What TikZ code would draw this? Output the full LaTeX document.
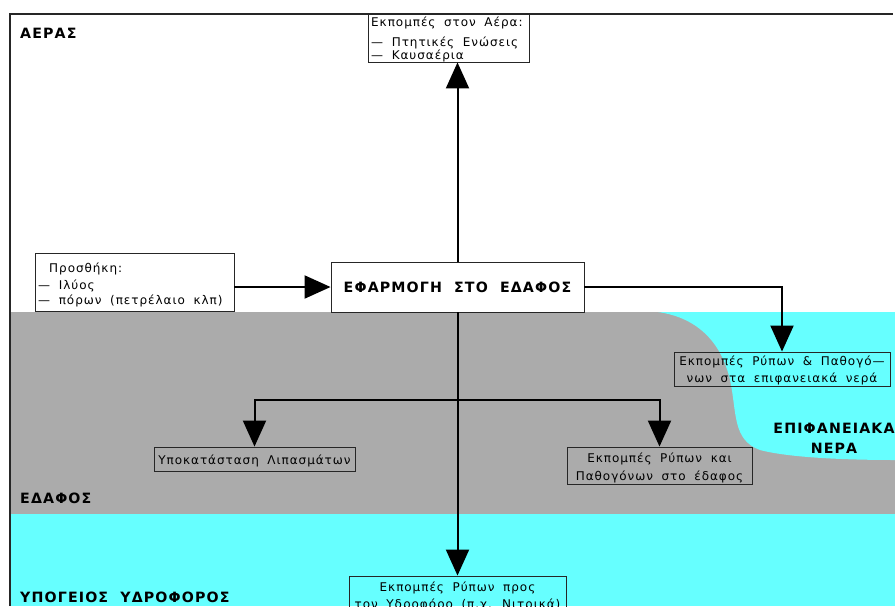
\documentclass[tikz,border=0pt]{standalone}
\usepackage{fontspec}
\setmainfont{DejaVu Sans}[LetterSpace=8, WordSpace=1.8]
\newfontfamily\hdr{DejaVu Sans}[LetterSpace=8]
\usetikzlibrary{arrows.meta}
\definecolor{soilgray}{HTML}{ABABAB}
\definecolor{watercyan}{HTML}{66FFFF}
\tikzset{
  box/.style={draw=black!85, line width=0.9pt, inner sep=0pt},
  txt/.style={font=\fontsize{12}{14}\selectfont, inner sep=0pt, anchor=base west},
  ctxt/.style={font=\fontsize{12}{14}\selectfont, inner sep=0pt, anchor=base},
  lbl/.style={font=\hdr\bfseries\fontsize{14.2}{16}\selectfont, inner sep=0pt, anchor=base west},
  arr/.style={-{Triangle[width=23pt,length=26pt]}, line width=2pt}
}
\begin{document}
\begin{tikzpicture}[x=1pt,y=-1pt]
\useasboundingbox (0,0) rectangle (895,606);
\clip (0,0) rectangle (895,606);
% regions
\fill[white] (0,0) rectangle (895,606);
\fill[soilgray] (10,312) rectangle (895,514);
\fill[watercyan] (10,514) rectangle (895,606);
\fill[watercyan] (658,312) .. controls (700,318) and (722,345) .. (730,380)
  .. controls (737,412) and (732,440) .. (760,450)
  .. controls (790,458) and (850,460) .. (895,460) -- (895,312) -- cycle;
% frame
\draw[line width=1.5pt, black!85] (10,606) -- (10,14) -- (893,14);
% region labels
\node[lbl] (aeras) at (20,38) {ΑΕΡΑΣ};
\node[lbl] (edafos) at (20,503) {ΕΔΑΦΟΣ};
\node[lbl] (ydro) at (20,602) {ΥΠΟΓΕΙΟΣ\ \ ΥΔΡΟΦΟΡΟΣ};
\node[lbl, anchor=base] (epif1) at (834,433) {ΕΠΙΦΑΝΕΙΑΚΑ};
\node[lbl, anchor=base] (epif2) at (834,453) {ΝΕΡΑ};
% boxes
\node[box, fill=white, minimum width=161pt, minimum height=48pt] (air) at (448.5,38) {};
\node[txt] (air1) at (371,26) {Εκπομπές στον Αέρα:};
\node[txt] (air2) at (371,46) {— Πτητικές Ενώσεις};
\node[txt] (air3) at (371,59) {— Καυσαέρια};

\node[box, fill=white, minimum width=199pt, minimum height=58pt] (add) at (134.5,282) {};
\node[txt] (add1) at (49,272) {Προσθήκη:};
\node[txt] (add2) at (38,289) {— Ιλύος};
\node[txt] (add3) at (38,304) {— πόρων (πετρέλαιο κλπ)};

\node[box, fill=white, minimum width=253pt, minimum height=50pt,
  font=\hdr\bfseries\fontsize{14.2}{16}\selectfont] (main) at (457.5,287) {ΕΦΑΡΜΟΓΗ\ \ ΣΤΟ\ \ ΕΔΑΦΟΣ};

\node[box, minimum width=216pt, minimum height=34pt] (surf) at (782,369) {};
\node[ctxt] (surf1) at (782,365) {Εκπομπές Ρύπων \& Παθογό—};
\node[ctxt] (surf2) at (782,382) {νων στα επιφανειακά νερά};

\node[box, minimum width=201pt, minimum height=24pt] (fert) at (254.5,459) {};
\node[ctxt] (fert1) at (254.5,464) {Υποκατάσταση Λιπασμάτων};

\node[box, minimum width=185pt, minimum height=37pt] (soil) at (659.5,465.5) {};
\node[ctxt] (soil1) at (659.5,462) {Εκπομπές Ρύπων και};
\node[ctxt] (soil2) at (659.5,480) {Παθογόνων στο έδαφος};

\node[box, minimum width=217pt, minimum height=44pt] (gw) at (457.5,598) {};
\node[ctxt] (gw1) at (457.5,591) {Εκπομπές Ρύπων προς};
\node[ctxt] (gw2) at (457.5,608) {τον Υδροφόρο (π.χ. Νιτρικά)};
% connectors
\draw[arr] (main.north) -- (main.north |- air.south);
\draw[arr] (add.east |- main.west) -- (main.west);
\draw[arr] (main.east) -| (surf.north);
\draw[arr] (main.south) -- (main.south |- gw.north);
\coordinate (br) at (457.5,400);
\draw[arr] (br) -| (fert.north);
\draw[arr] (br) -| (soil.north);
\end{tikzpicture}
\end{document}
